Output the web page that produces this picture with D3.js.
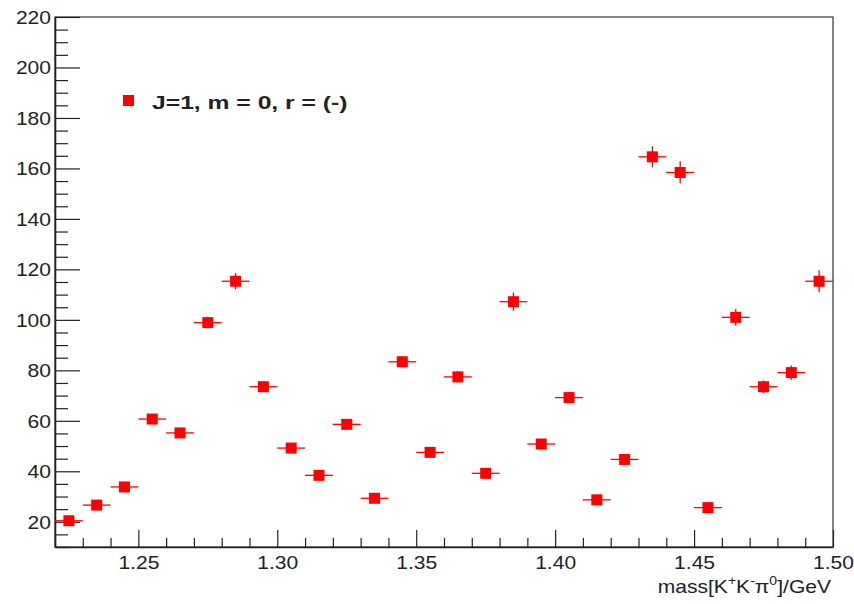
<!DOCTYPE html>
<html>
<head>
<meta charset="utf-8">
<script src="https://cdn.jsdelivr.net/npm/d3@7"></script>
<style>
  body { margin: 0; background: #fff; }
  text { font-family: "Liberation Sans", Arial, sans-serif; fill: #222; }
</style>
</head>
<body>
<div id="my_dataviz"></div>
<script>
// data
var massBins = [1.225, 1.235, 1.245, 1.255, 1.265, 1.275, 1.285, 1.295, 1.305, 1.315,
                1.325, 1.335, 1.345, 1.355, 1.365, 1.375, 1.385, 1.395, 1.405, 1.415,
                1.425, 1.435, 1.445, 1.455, 1.465, 1.475, 1.485, 1.495];
var yields = [20.4, 26.6, 33.8, 60.7, 55.2, 98.9, 115.3, 73.5, 49.2, 38.4,
              58.6, 29.3, 83.4, 47.5, 77.4, 39.2, 107.2, 50.8, 69.2, 28.7,
              44.7, 164.6, 158.4, 25.6, 101.0, 73.5, 79.1, 115.3];
var yieldErrors = [1.2, 1.4, 1.6, 2.0, 2.0, 2.2, 3.2, 2.0, 1.8, 1.6,
                   2.0, 1.4, 2.2, 1.8, 2.2, 1.6, 3.6, 1.8, 2.2, 1.4,
                   1.8, 4.2, 4.4, 1.4, 3.3, 2.5, 2.8, 4.4];
var binHalfWidth = 0.005;
var xTickValues = [1.25, 1.30, 1.35, 1.40, 1.45, 1.50];
var yTickValues = [20, 40, 60, 80, 100, 120, 140, 160, 180, 200, 220];
var legendLabel = "J=1, m = 0, r = (-)";

var div_width = 854, div_height = 604;
var margin = {top: 17, right: 21, bottom: 57, left: 55},
    width = div_width - margin.left - margin.right,
    height = div_height - margin.top - margin.bottom;
var stretch = 1.17; // glyphs in the picture are a bit wider than tall

var svg = d3.select("#my_dataviz")
  .append("svg")
  .attr("width", div_width)
  .attr("height", div_height)
  .style("display", "block")
  .append("g")
  .attr("transform", "translate(" + margin.left + "," + margin.top + ")");

var x = d3.scaleLinear().domain([1.22, 1.50]).range([0, width]);
var y = d3.scaleLinear().domain([10, 220]).range([height, 0]);

// frame
svg.append("rect")
  .attr("width", width).attr("height", height)
  .attr("fill", "none").attr("stroke", "#333").attr("stroke-width", 1.2);

// minor ticks
var xMinor = d3.range(122, 151).map(function(d){ return d / 100; })
  .filter(function(d){ return xTickValues.every(function(t){ return Math.abs(t - d) > 1e-6; }); });
var yMinor = d3.range(10, 221, 5).filter(function(d){ return yTickValues.indexOf(d) < 0; });

svg.append("g")
  .attr("transform", "translate(0," + height + ")")
  .call(d3.axisBottom(x).tickValues(xMinor).tickSize(-9).tickFormat(""))
  .call(function(g){ g.select(".domain").remove(); });
svg.append("g")
  .call(d3.axisLeft(y).tickValues(yMinor).tickSize(-13).tickFormat(""))
  .call(function(g){ g.select(".domain").remove(); });

// major ticks with labels
var xAxis = svg.append("g")
  .attr("transform", "translate(0," + height + ")")
  .call(d3.axisBottom(x).tickValues(xTickValues).tickSize(-17).tickSizeOuter(0)
        .tickPadding(9).tickFormat(d3.format(".2f")));
var yAxis = svg.append("g")
  .call(d3.axisLeft(y).tickValues(yTickValues).tickSize(-25).tickSizeOuter(0)
        .tickPadding(4).tickFormat(d3.format("d")));

[xAxis, yAxis].forEach(function(ax){
  ax.select(".domain").attr("stroke", "#222").attr("stroke-width", 1.6);
  ax.selectAll("text")
    .style("font-size", "18px")
    .attr("fill", "#222");
});
svg.selectAll(".tick line").attr("stroke", "#222").attr("stroke-width", 1.2);
xAxis.selectAll("text").attr("transform", "scale(" + stretch + ",1)");
yAxis.selectAll("text")
  .attr("x", -4 / stretch)
  .attr("dy", "0.36em")
  .attr("transform", "scale(" + stretch + ",1)");

// data points
var points = massBins.map(function(m, i){ return {m: m, v: yields[i], e: yieldErrors[i]}; });
var red = "#ff0000";

svg.selectAll(".xerr")
  .data(points).enter().append("line")
  .attr("class", "xerr")
  .attr("x1", function(d){ return x(d.m - binHalfWidth); })
  .attr("x2", function(d){ return x(d.m + binHalfWidth); })
  .attr("y1", function(d){ return y(d.v); })
  .attr("y2", function(d){ return y(d.v); })
  .attr("stroke", red).attr("stroke-width", 1.3);
svg.selectAll(".yerr")
  .data(points).enter().append("line")
  .attr("class", "yerr")
  .attr("x1", function(d){ return x(d.m); })
  .attr("x2", function(d){ return x(d.m); })
  .attr("y1", function(d){ return y(d.v - d.e); })
  .attr("y2", function(d){ return y(d.v + d.e); })
  .attr("stroke", red).attr("stroke-width", 1.3);

var ms = 11;
svg.selectAll(".marker")
  .data(points).enter().append("rect")
  .attr("class", "marker")
  .attr("x", function(d){ return x(d.m) - ms / 2; })
  .attr("y", function(d){ return y(d.v) - ms / 2; })
  .attr("width", ms).attr("height", ms)
  .attr("fill", red);

// legend
var legend = svg.append("g").attr("transform", "translate(" + (123 - margin.left) + "," + (95 - margin.top) + ")");
legend.append("rect").attr("width", ms).attr("height", ms).attr("fill", red);
legend.append("text")
  .attr("transform", "translate(29,13.5) scale(1.3,1)")
  .style("font-size", "19px")
  .style("font-weight", "bold")
  .text(legendLabel);

// x axis title
var title = svg.append("text")
  .attr("text-anchor", "end")
  .attr("transform", "translate(" + (width - 2) + "," + (height + 46) + ") scale(" + stretch + ",1)")
  .style("font-size", "18px");
var sup = function(s){
  title.append("tspan").attr("dy", -8).style("font-size", "12px").text(s);
};
title.append("tspan").text("mass[K");
sup("+");
title.append("tspan").attr("dy", 8).text("K");
sup("-");
title.append("tspan").attr("dy", 8).text("\u03c0");
sup("0");
title.append("tspan").attr("dy", 8).text("]/GeV");
</script>
</body>
</html>
